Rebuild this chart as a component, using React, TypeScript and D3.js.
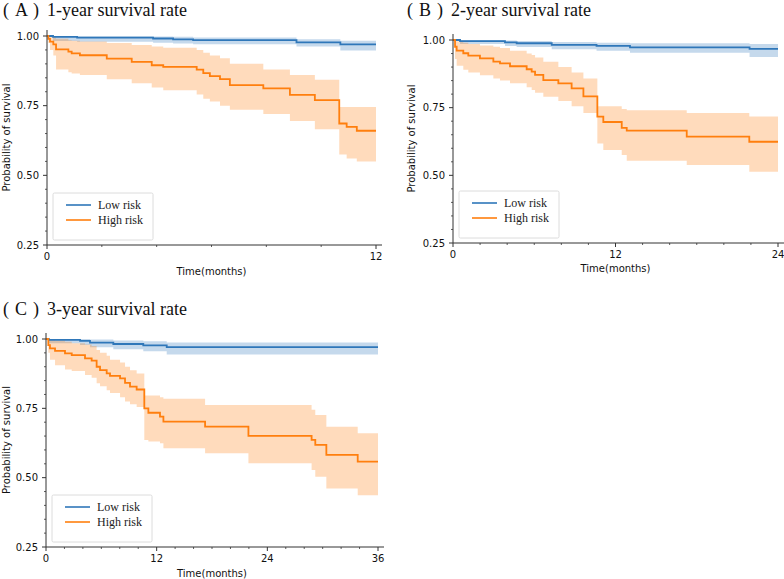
import React from 'react';
import * as d3 from 'd3';

// ---------- Data ----------
// Panel A: 1-year
const lowA_t = [0, 0.22, 1.1, 3.87, 4.6, 5.33, 9.1, 10.7, 12];
const lowA_s = [1.0, 0.997, 0.994, 0.991, 0.988, 0.985, 0.977, 0.97, 0.97];
const lowA_lo = [1.0, 0.982, 0.979, 0.976, 0.973, 0.97, 0.962, 0.948, 0.948];
const lowA_hi = [1.0, 1.0, 0.999, 0.998, 0.997, 0.995, 0.988, 0.983, 0.983];

const highA_t = [0, 0.05, 0.11, 0.23, 0.33, 0.78, 0.9, 1.2, 2.18, 3.09, 3.82, 4.24, 5.46, 5.7, 5.94, 6.31, 6.67, 7.89, 8.86, 9.77, 10.66, 10.93, 11.3, 12];
const highA_s = [1.0, 0.99, 0.98, 0.97, 0.952, 0.944, 0.938, 0.931, 0.919, 0.907, 0.895, 0.889, 0.879, 0.867, 0.856, 0.845, 0.824, 0.812, 0.789, 0.77, 0.686, 0.674, 0.66, 0.66];
const highA_lo = [1.0, 0.975, 0.95, 0.93, 0.88, 0.87, 0.865, 0.86, 0.845, 0.83, 0.815, 0.805, 0.79, 0.775, 0.765, 0.75, 0.735, 0.72, 0.695, 0.665, 0.575, 0.56, 0.55, 0.55];
const highA_hi = [1.0, 1.0, 1.0, 0.995, 0.99, 0.985, 0.983, 0.98, 0.975, 0.968, 0.962, 0.958, 0.95, 0.94, 0.93, 0.92, 0.9, 0.88, 0.86, 0.843, 0.745, 0.745, 0.745, 0.745];

// Panel B: 2-year
const lowB_t = [0, 0.52, 3.84, 4.7, 7.29, 10.6, 13.07, 21.9, 24];
const lowB_s = [1.0, 0.996, 0.991, 0.988, 0.982, 0.978, 0.973, 0.967, 0.967];
const lowB_lo = [1.0, 0.985, 0.978, 0.974, 0.966, 0.96, 0.953, 0.937, 0.937];
const lowB_hi = [1.0, 1.0, 0.998, 0.996, 0.993, 0.99, 0.988, 0.985, 0.985];

const highB_t = [0, 0.15, 0.27, 0.76, 1.13, 1.99, 2.98, 3.47, 4.21, 5.44, 5.81, 6.06, 6.67, 7.78, 8.76, 9.63, 10.66, 11.1, 12.46, 12.83, 17.26, 21.88, 24];
const highB_s = [1.0, 0.975, 0.961, 0.951, 0.942, 0.932, 0.92, 0.914, 0.903, 0.892, 0.883, 0.871, 0.852, 0.84, 0.821, 0.792, 0.717, 0.697, 0.675, 0.665, 0.643, 0.624, 0.624];
const highB_lo = [1.0, 0.93, 0.905, 0.89, 0.88, 0.87, 0.858, 0.85, 0.84, 0.825, 0.815, 0.805, 0.79, 0.775, 0.755, 0.73, 0.618, 0.594, 0.575, 0.554, 0.538, 0.513, 0.513];
const highB_hi = [1.0, 1.0, 0.995, 0.99, 0.985, 0.98, 0.975, 0.97, 0.96, 0.95, 0.945, 0.935, 0.92, 0.9, 0.88, 0.858, 0.755, 0.755, 0.745, 0.74, 0.73, 0.717, 0.717];

// Panel C: 3-year
const lowC_t = [0, 0.3, 3.69, 4.77, 7.3, 10.55, 13.09, 36];
const lowC_s = [1.0, 0.997, 0.993, 0.987, 0.982, 0.977, 0.971, 0.971];
const lowC_lo = [1.0, 0.985, 0.978, 0.97, 0.963, 0.956, 0.944, 0.944];
const lowC_hi = [1.0, 1.0, 1.0, 0.998, 0.995, 0.992, 0.987, 0.987];

const highC_t = [0, 0.25, 0.43, 0.98, 2.06, 2.79, 4.23, 4.95, 5.49, 5.86, 6.58, 6.94, 8.03, 8.57, 9.11, 9.83, 10.66, 11.1, 12.36, 12.73, 17.25, 21.95, 28.8, 29.2, 30.4, 33.8, 36];
const highC_s = [1.0, 0.978, 0.966, 0.957, 0.948, 0.942, 0.93, 0.922, 0.9, 0.888, 0.876, 0.867, 0.858, 0.842, 0.828, 0.818, 0.75, 0.734, 0.72, 0.702, 0.684, 0.651, 0.636, 0.618, 0.582, 0.558, 0.558];
const highC_lo = [1.0, 0.95, 0.925, 0.905, 0.89, 0.885, 0.87, 0.86, 0.84, 0.83, 0.815, 0.805, 0.79, 0.775, 0.765, 0.755, 0.636, 0.63, 0.624, 0.606, 0.588, 0.552, 0.528, 0.503, 0.461, 0.437, 0.437];
const highC_hi = [1.0, 1.0, 1.0, 0.995, 0.99, 0.985, 0.98, 0.975, 0.96, 0.95, 0.94, 0.925, 0.915, 0.9, 0.887, 0.876, 0.796, 0.796, 0.79, 0.785, 0.762, 0.762, 0.745, 0.726, 0.684, 0.66, 0.66];

const yTicks = [0.25, 0.5, 0.75, 1.0];
const yTickLabels = ['0.25', '0.50', '0.75', '1.00'];
const legendLabels = ['Low risk', 'High risk'];
const titleLetters = ['A', 'B', 'C'];
const titleTexts = ['1-year survival rate', '2-year survival rate', '3-year survival rate'];
const xLabel = 'Time(months)';
const yLabel = 'Probability of survival';

const BLUE = '#2f77b9';
const ORANGE = '#ff7f0e';
const SANS = 'DejaVu Sans, sans-serif';
const SERIF = 'Liberation Serif, Times New Roman, serif';

type Series = { t: number[]; s: number[]; lo: number[]; hi: number[] };

interface PanelProps {
  letter: string;
  title: string;
  titleX: number;
  titleY: number;
  x0: number;
  x1: number;
  yTop: number;
  yBottom: number;
  tMax: number;
  xTicks: number[];
  low: Series;
  high: Series;
  ylabelX: number;
  xlabelDy: number;
}

function Panel(p: PanelProps) {
  const x = d3.scaleLinear().domain([0, p.tMax]).range([p.x0, p.x1]);
  const y = d3.scaleLinear().domain([0.25, 1.0]).range([p.yBottom, p.yTop]);

  const makeArea = (sr: Series) => {
    const idx = sr.t.map((_, i) => i);
    return d3
      .area<number>()
      .x((i) => x(sr.t[i]))
      .y0((i) => y(sr.lo[i]))
      .y1((i) => y(sr.hi[i]))
      .curve(d3.curveStepAfter)(idx) as string;
  };
  const makeLine = (sr: Series) => {
    const idx = sr.t.map((_, i) => i);
    return d3
      .line<number>()
      .x((i) => x(sr.t[i]))
      .y((i) => y(sr.s[i]))
      .curve(d3.curveStepAfter)(idx) as string;
  };

  const xMinor = d3.range(0, p.tMax + 0.001, 2).filter((v) => !p.xTicks.includes(v));
  const yMinor = d3.range(0.25, 1.0001, 0.05).filter((v) => !yTicks.some((t) => Math.abs(t - v) < 1e-6));

  const spineRight = p.x1 + 6;
  const spineTop = p.yTop - 6;
  const legX = p.x0 + 6;
  const legBottom = p.yBottom - 5;
  const legW = 100;
  const legH = 47;
  const legTop = legBottom - legH;
  const axisColor = '#333';

  return (
    <g>
      <text x={p.titleX} y={p.titleY} fontFamily={SERIF} fontSize={18} fill="#111">
        <tspan x={p.titleX}>(</tspan>
        <tspan x={p.titleX + 12}>{p.letter}</tspan>
        <tspan x={p.titleX + 30}>)</tspan>
        <tspan x={p.titleX + 44}>{p.title}</tspan>
      </text>
      <path d={makeArea(p.low)} fill={BLUE} fillOpacity={0.28} stroke="none" />
      <path d={makeArea(p.high)} fill={ORANGE} fillOpacity={0.28} stroke="none" />
      <path d={makeLine(p.low)} fill="none" stroke={BLUE} strokeWidth={1.8} />
      <path d={makeLine(p.high)} fill="none" stroke={ORANGE} strokeWidth={1.8} />

      {/* spines */}
      <line x1={p.x0} x2={p.x0} y1={spineTop} y2={p.yBottom} stroke={axisColor} strokeWidth={1} />
      <line x1={p.x0} x2={spineRight} y1={p.yBottom} y2={p.yBottom} stroke={axisColor} strokeWidth={1} />

      {/* y ticks */}
      {yTicks.map((v, i) => (
        <g key={'yt' + i}>
          <line x1={p.x0 - 4} x2={p.x0} y1={y(v)} y2={y(v)} stroke={axisColor} />
          <text x={p.x0 - 8} y={y(v)} dy="0.35em" textAnchor="end" fontFamily={SANS} fontSize={10} fill="#111">
            {yTickLabels[i]}
          </text>
        </g>
      ))}
      {yMinor.map((v, i) => (
        <line key={'ym' + i} x1={p.x0 - 2} x2={p.x0} y1={y(v)} y2={y(v)} stroke={axisColor} strokeWidth={0.8} />
      ))}

      {/* x ticks */}
      {p.xTicks.map((v, i) => (
        <g key={'xt' + i}>
          <line x1={x(v)} x2={x(v)} y1={p.yBottom} y2={p.yBottom + 4} stroke={axisColor} />
          <text x={x(v)} y={p.yBottom + 15} textAnchor="middle" fontFamily={SANS} fontSize={10} fill="#111">
            {v}
          </text>
        </g>
      ))}
      {xMinor.map((v, i) => (
        <line key={'xm' + i} x1={x(v)} x2={x(v)} y1={p.yBottom} y2={p.yBottom + 2} stroke={axisColor} strokeWidth={0.8} />
      ))}

      <text
        x={(p.x0 + p.x1) / 2}
        y={p.yBottom + p.xlabelDy}
        textAnchor="middle"
        fontFamily={SANS}
        fontSize={10}
        fill="#111"
      >
        {xLabel}
      </text>
      <text
        transform={`translate(${p.ylabelX},${(spineTop + p.yBottom) / 2}) rotate(-90)`}
        textAnchor="middle"
        fontFamily={SANS}
        fontSize={10}
        fill="#111"
      >
        {yLabel}
      </text>

      {/* legend */}
      <rect x={legX} y={legTop} width={legW} height={legH} fill="#fff" fillOpacity={0.85} stroke="#dcdcdc" strokeWidth={1} rx={1.5} />
      {[BLUE, ORANGE].map((c, i) => (
        <g key={'lg' + i}>
          <line x1={legX + 13} x2={legX + 38} y1={legTop + 12 + i * 15} y2={legTop + 12 + i * 15} stroke={c} strokeWidth={1.6} />
          <text x={legX + 45} y={legTop + 12 + i * 15} dy="0.33em" fontFamily={SERIF} fontSize={12} fill="#222">
            {legendLabels[i]}
          </text>
        </g>
      ))}
    </g>
  );
}

export default function App() {
  return (
    <svg
      width={784}
      height={579}
      viewBox="0 0 784 579"
      style={{ position: 'absolute', left: 0, top: 0, background: '#fff' }}
    >
      <rect x={0} y={0} width={784} height={579} fill="#fff" />
      <Panel
        letter={titleLetters[0]}
        title={titleTexts[0]}
        titleX={3}
        titleY={16}
        x0={47}
        x1={376}
        yTop={36}
        yBottom={245}
        tMax={12}
        xTicks={[0, 12]}
        low={{ t: lowA_t, s: lowA_s, lo: lowA_lo, hi: lowA_hi }}
        high={{ t: highA_t, s: highA_s, lo: highA_lo, hi: highA_hi }}
        ylabelX={10}
        xlabelDy={30}
      />
      <Panel
        letter={titleLetters[1]}
        title={titleTexts[1]}
        titleX={407}
        titleY={16}
        x0={453}
        x1={778}
        yTop={40}
        yBottom={243}
        tMax={24}
        xTicks={[0, 12, 24]}
        low={{ t: lowB_t, s: lowB_s, lo: lowB_lo, hi: lowB_hi }}
        high={{ t: highB_t, s: highB_s, lo: highB_lo, hi: highB_hi }}
        ylabelX={415}
        xlabelDy={29}
      />
      <Panel
        letter={titleLetters[2]}
        title={titleTexts[2]}
        titleX={3}
        titleY={315}
        x0={46}
        x1={378}
        yTop={339}
        yBottom={547}
        tMax={36}
        xTicks={[0, 12, 24, 36]}
        low={{ t: lowC_t, s: lowC_s, lo: lowC_lo, hi: lowC_hi }}
        high={{ t: highC_t, s: highC_s, lo: highC_lo, hi: highC_hi }}
        ylabelX={10}
        xlabelDy={30}
      />
    </svg>
  );
}
